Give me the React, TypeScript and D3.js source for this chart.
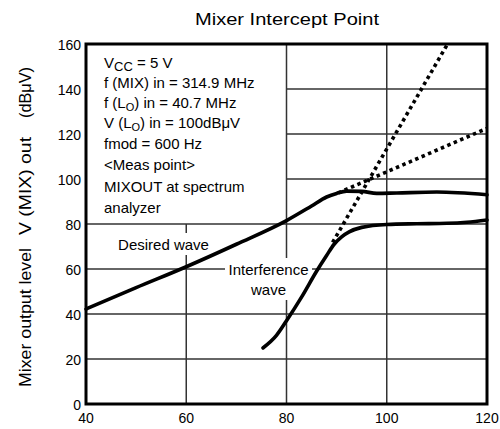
import React from "react";
import * as d3 from "d3";

const xTicks = [40, 60, 80, 100, 120];
const yTicks = [0, 20, 40, 60, 80, 100, 120, 140, 160];

const desiredX = [40, 50, 60, 70, 80, 85, 88, 90, 92, 95, 98, 102, 110, 120];
const desiredY = [42.2, 51.7, 61, 71, 81.5, 88, 92, 93.6, 94.6, 94.5, 93.6, 93.8, 94.2, 93];

const interfX = [75.3, 78, 80, 83, 86, 88, 89.5, 91, 92.5, 95, 100, 106, 112, 116, 120];
const interfY = [24.9, 30.5, 37, 47.5, 59, 66, 71, 74.3, 76.5, 78.5, 79.8, 80.1, 80.3, 80.8, 81.8];

const thirdX = [89.2, 112];
const thirdY = [71.8, 159.5];
const secondX = [90.3, 120];
const secondY = [93.8, 122.5];

const legendLines = [
  "VCC = 5 V",
  "f (MIX) in = 314.9 MHz",
  "f (LO) in = 40.7 MHz",
  "V (LO) in = 100dBμV",
  "fmod = 600 Hz",
  "<Meas point>",
  "MIXOUT at spectrum",
  "analyzer",
];

const FONT = "'Liberation Sans', Arial, Helvetica, sans-serif";

export default function App() {
  const x = d3.scaleLinear().domain([40, 120]).range([86, 487]);
  const y = d3.scaleLinear().domain([0, 160]).range([404, 44]);

  const line = d3
    .line<[number, number]>()
    .x((d) => x(d[0]))
    .y((d) => y(d[1]))
    .curve(d3.curveMonotoneX);
  const straight = d3
    .line<[number, number]>()
    .x((d) => x(d[0]))
    .y((d) => y(d[1]));

  const zip = (a: number[], b: number[]) => a.map((v, i) => [v, b[i]] as [number, number]);

  const legendY = [67.5, 87.5, 107.5, 128, 149, 170, 191.5, 213];

  const renderLegend = (s: string, i: number) => {
    if (s.startsWith("VCC")) {
      return (
        <text key={i} x={104} y={legendY[i]}>
          V<tspan fontSize={13} dy={3}>CC</tspan>
          <tspan dy={-3}>{" = 5 V"}</tspan>
        </text>
      );
    }
    if (s.includes("(LO)")) {
      const [pre, post] = s.split("(LO)");
      return (
        <text key={i} x={104} y={legendY[i]}>
          {pre}(L<tspan fontSize={11} dy={3}>O</tspan>
          <tspan dy={-3}>){post}</tspan>
        </text>
      );
    }
    return (
      <text key={i} x={104} y={legendY[i]}>
        {s}
      </text>
    );
  };

  return (
    <svg
      width={500}
      height={429}
      style={{ position: "absolute", left: 0, top: 0, background: "#fff" }}
      fontFamily={FONT}
    >
      <rect x={0} y={0} width={500} height={429} fill="#fff" />
      <text x={287} y={25} fontSize={16} textAnchor="middle" textLength={184} lengthAdjust="spacingAndGlyphs">
        Mixer Intercept Point
      </text>

      {/* gridlines */}
      <g stroke="#333" strokeWidth={1.5}>
        {yTicks.slice(1, -1).map((t) => (
          <line key={"h" + t} x1={t >= 100 ? x(80) : x(40)} x2={x(120)} y1={y(t)} y2={y(t)} />
        ))}
        {xTicks.slice(1, -1).map((t) => (
          <line key={"v" + t} x1={x(t)} x2={x(t)} y1={t === 60 ? y(80) : y(160)} y2={y(0)} />
        ))}
      </g>

      {/* label backgrounds */}
      <rect x={115} y={233} width={97} height={22} fill="#fff" />
      <rect x={225} y={258} width={87} height={42} fill="#fff" />

      <g fontSize={15} fill="#000">
        {legendLines.map(renderLegend)}
        <text x={163.5} y={250} textAnchor="middle">Desired wave</text>
        <text x={268.5} y={275} textAnchor="middle">Interference</text>
        <text x={268.5} y={295} textAnchor="middle">wave</text>
      </g>

      {/* curves */}
      <path d={line(zip(desiredX, desiredY)) || ""} fill="none" stroke="#000" strokeWidth={3.6} strokeLinecap="round" />
      <path d={line(zip(interfX, interfY)) || ""} fill="none" stroke="#000" strokeWidth={3.6} strokeLinecap="round" />
      <path d={straight(zip(thirdX, thirdY)) || ""} fill="none" stroke="#000" strokeWidth={3.6} strokeDasharray="3.5 3.5" />
      <path d={straight(zip(secondX, secondY)) || ""} fill="none" stroke="#000" strokeWidth={3.6} strokeDasharray="3.5 3.5" />

      {/* frame */}
      <rect x={x(40)} y={y(160)} width={x(120) - x(40)} height={y(0) - y(160)} fill="none" stroke="#000" strokeWidth={3} />

      {/* tick labels */}
      <g fontSize={14} fill="#000">
        {yTicks.map((t) => (
          <text key={"yl" + t} x={81} y={y(t) + 6} textAnchor="end">
            {t}
          </text>
        ))}
        {xTicks.map((t) => (
          <text key={"xl" + t} x={x(t)} y={423} textAnchor="middle">
            {t}
          </text>
        ))}
      </g>

      {/* y axis title */}
      <g fontSize={16} fill="#000">
        <text transform="translate(31,317.5) rotate(-90)" textAnchor="middle" textLength={139} lengthAdjust="spacingAndGlyphs">
          Mixer output level
        </text>
        <text transform="translate(31,186) rotate(-90)" textAnchor="middle" textLength={98} lengthAdjust="spacingAndGlyphs">
          V (MIX) out
        </text>
        <text transform="translate(31,92.5) rotate(-90)" textAnchor="middle" textLength={51} lengthAdjust="spacingAndGlyphs">
          (dBμV)
        </text>
      </g>
    </svg>
  );
}
